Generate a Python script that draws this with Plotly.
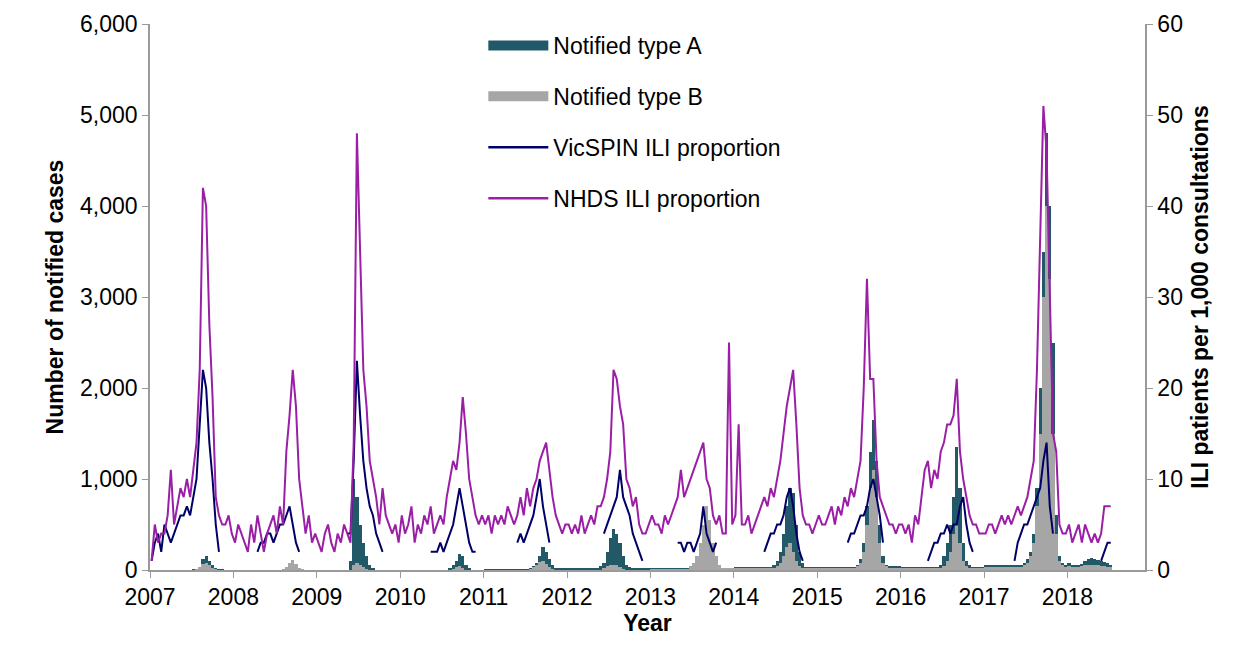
import plotly.graph_objects as go

# biweekly estimates, 26 per year (2018 partial)
YEARS = list(range(2007, 2019))
N = None

nhds = {
    2007: [1,5,3,4,4,6,11,5,7,9,8,10,8,11,14,22,42,40,27,19,8,6,5,5,6,4],
    2008: [3,5,4,3,2,5,3,6,4,2,4,5,6,4,7,5,13,17,22,18,10,7,4,6,3,4],
    2009: [3,2,4,5,3,2,4,3,5,4,3,14,48,35,22,18,12,10,8,5,9,6,5,4,5,3],
    2010: [6,4,5,7,3,5,4,6,5,7,4,5,6,5,8,10,12,11,14,19,15,10,8,6,5,6],
    2011: [5,6,4,6,5,6,5,7,6,5,6,8,6,9,7,9,10,12,13,14,11,8,6,5,4,5],
    2012: [5,4,5,4,6,4,5,6,5,7,7,8,10,13,22,21,18,16,10,9,7,8,5,4,4,5],
    2013: [6,5,5,4,6,5,6,7,8,11,8,9,10,11,12,13,14,10,9,6,5,6,4,4,25,5],
    2014: [6,16,5,5,6,4,5,6,7,8,7,9,8,10,12,15,18,20,22,16,9,6,5,5,4,5],
    2015: [6,5,5,6,7,5,7,6,8,7,9,8,10,12,20,32,21,21,12,8,7,6,5,5,4,5],
    2016: [5,4,5,3,6,5,8,11,12,9,11,10,13,14,16,16,17,21,13,10,8,6,5,5,4,4],
    2017: [4,5,5,4,5,6,5,6,5,6,7,6,7,8,10,12,22,35,51,46,30,15,13,5,4,4],
    2018: [5,3,4,5,3,5,4,3,4,3,4,7,7,7],
}

vicspin = {
    2007: [1,3,4,2,5,4,3,4,5,6,6,7,6,8,10,16,22,20,14,10,5,2,N,N,N,N],
    2008: [N]*7 + [2,3,3,4,4,3,4,5,5,6,7,5,3,2] + [N]*5,
    2009: [N]*9 + [4,4,12,23,17,12,9,7,6,4,3,2] + [N]*5,
    2010: [N]*9 + [2,2,2,3,2,3,4,5,7,9,7,5,3,2,2] + [N]*2,
    2011: [N]*10 + [3,4,3,4,5,6,8,10,7,5,3] + [N]*5,
    2012: [N]*11 + [4,5,6,7,8,11,8,7,6,4,3,2,1] + [N]*2,
    2013: [N]*8 + [3,3,2,3,3,2,3,4,7,4,3,2,3] + [N]*5,
    2014: [N]*9 + [2,3,4,4,5,5,6,8,9,7,4,2,1] + [N]*4,
    2015: [N]*9 + [3,4,4,5,6,6,7,9,10,8,6,3] + [N]*5,
    2016: [N]*8 + [1,2,3,3,4,4,5,4,5,5,7,8,5,3,2] + [N]*3,
    2017: [N]*9 + [1,3,4,5,5,6,7,8,9,12,14,7,4] + [N]*4,
    2018: [N]*10 + [1,2,3,3],
}

type_a = {
    2007: [0]*13 + [5,10,30,120,150,100,50,20,10,5] + [0]*3,
    2008: [0]*15 + [10,20,40,60,40,20,10] + [0]*4,
    2009: [0]*10 + [100,1000,800,500,300,150,60,20] + [0]*8,
    2010: [0]*15 + [20,50,100,180,150,60,20] + [0]*4,
    2011: [10]*14 + [20,40,80,150,250,200,120,50] + [20]*4,
    2012: [20]*10 + [40,80,200,350,450,400,300,150,60,30] + [20]*6,
    2013: [20]*13 + [50,100,200,300,250,150,80,40] + [20]*5,
    2014: [30]*12 + [60,100,200,400,700,900,850,500,200,80] + [30]*4,
    2015: [30]*12 + [60,120,300,700,1300,1650,1200,500,150,60] + [40]*4,
    2016: [30]*12 + [60,150,300,500,800,1350,900,300,100,50] + [30]*4,
    2017: [50]*12 + [80,120,200,400,900,2000,3500,4800,4000,2500,600,150,80,50],
    2018: [80,60,50,60,70,100,120,130,120,110,100,90,80,60],
}

type_b = {
    2007: [0]*14 + [10,30,70,80,50,20,5] + [0]*5,
    2008: [0]*15 + [10,30,80,110,70,20,5] + [0]*4,
    2009: [0]*11 + [50,80,50,30,10] + [0]*10,
    2010: [0]*16 + [10,30,40,20] + [0]*6,
    2011: [0]*14 + [10,30,60,90,100,70,30,10] + [0]*4,
    2012: [0]*11 + [20,40,60,60,50,30,10] + [0]*8,
    2013: [10]*12 + [40,80,150,300,500,700,550,300,150,60] + [20]*4,
    2014: [20]*13 + [40,80,150,250,300,200,100,40] + [20]*5,
    2015: [20]*12 + [40,80,200,500,900,1100,800,300,80,40] + [20]*4,
    2016: [20]*13 + [40,100,200,400,500,300,100,40] + [20]*5,
    2017: [30]*12 + [50,80,150,300,700,1500,3000,4000,3200,1500,400,100,50,30],
    2018: [40,30,30,30,40,50,60,60,50,50,40,40,30,30],
}


def flatten(d):
    xs, ys = [], []
    for y in YEARS:
        for i, v in enumerate(d[y]):
            xs.append(y + (i + 0.5) / 26)
            ys.append(v)
    return xs, ys


FONT = "Liberation Sans"
A_COL, B_COL, V_COL, N_COL = "#215968", "#a6a6a6", "#000066", "#9a1fa6"
fig = go.Figure()

xa, ya = flatten(type_a)
xb, yb = flatten(type_b)
xv, yv = flatten(vicspin)
xn, yn = flatten(nhds)

fig.add_trace(go.Bar(x=xa, y=ya, width=1/26, showlegend=False,
                     marker=dict(color=A_COL, line_width=0)))
fig.add_trace(go.Bar(x=xb, y=yb, width=1/26, showlegend=False,
                     marker=dict(color=B_COL, line_width=0)))
fig.add_trace(go.Scatter(x=xv, y=yv, yaxis="y2", showlegend=False,
                         mode="lines", line=dict(color=V_COL, width=2)))
fig.add_trace(go.Scatter(x=xn, y=yn, yaxis="y2", showlegend=False,
                         mode="lines", line=dict(color=N_COL, width=2)))

# legend entries (wide swatches like the original)
for name, col, w in [("Notified type A", A_COL, 16), ("Notified type B", B_COL, 16),
                     ("VicSPIN ILI proportion", V_COL, 2.5), ("NHDS ILI proportion", N_COL, 2.5)]:
    fig.add_trace(go.Scatter(x=[None], y=[None], mode="lines", name=name, legendgroup=name,
                             line=dict(color=col, width=w)))

axis_common = dict(showgrid=False, showline=True, linecolor="#9a9a9a", linewidth=1.5,
                   ticks="outside", tickcolor="#9a9a9a", ticklen=6, zeroline=False,
                   tickfont=dict(family=FONT, size=23, color="black"))

fig.update_layout(
    width=1244, height=660, barmode="overlay", bargap=0,
    plot_bgcolor="white", paper_bgcolor="white",
    margin=dict(l=142, r=107, t=16, b=98, autoexpand=False),
    font=dict(family=FONT, color="black"),
    xaxis=dict(range=[2007, 2018.93], dtick=1, tick0=2007,
               title=dict(text="<b>Year</b>", font=dict(size=23), standoff=2),
               **axis_common),
    yaxis=dict(range=[0, 6000], dtick=1000, tickformat=",",
               title=dict(text="<b>Number of notified cases</b>", font=dict(size=23), standoff=10),
               **axis_common),
    yaxis2=dict(range=[0, 60], dtick=10, overlaying="y", side="right",
                title=dict(text="<b>ILI patients per 1,000 consultations</b>", font=dict(size=23), standoff=10),
                **axis_common),
    legend=dict(x=0.335, y=1.0, xanchor="left", yanchor="top", bgcolor="rgba(255,255,255,0)",
                font=dict(family=FONT, size=23), tracegroupgap=18, itemwidth=60),
)

fig.write_html("out.html")
